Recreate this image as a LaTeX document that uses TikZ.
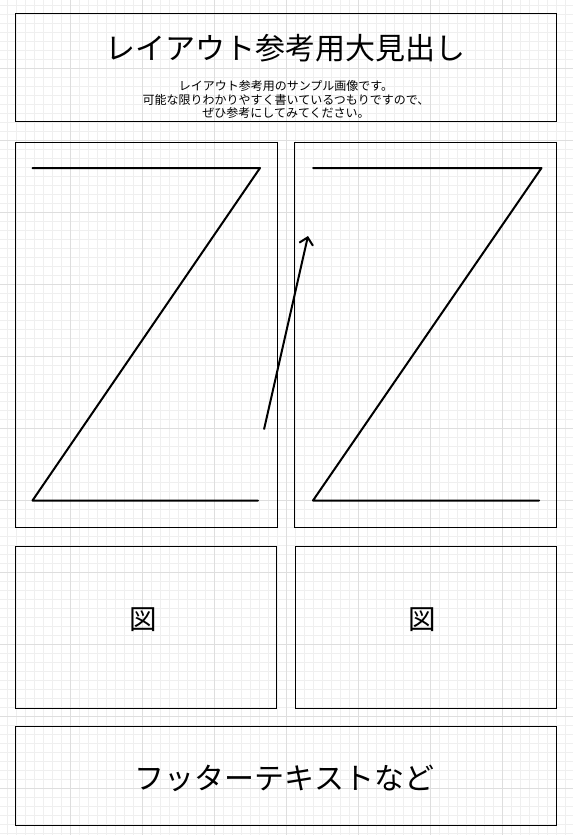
\documentclass[tikz,border=0pt]{standalone}
\usepackage{fontspec}
\setmainfont{Noto Sans CJK JP}
\usetikzlibrary{arrows.meta}
\definecolor{gridminor}{HTML}{EFEFEF}
\definecolor{gridmajor}{HTML}{DEDEDE}
\tikzset{
  minorline/.style={draw=gridminor, line width=0.75pt},
  majorline/.style={draw=gridmajor, line width=0.9pt},
  panel/.style={draw=black, line width=1pt, fill=none, anchor=north west, inner sep=0pt, outer sep=0pt},
  zline/.style={draw=black, line width=2pt, line cap=round, line join=round},
  arrowline/.style={draw=black, line width=2pt, -{Straight Barb[length=7pt,width=14pt]}},
  bigtext/.style={inner sep=0pt, font=\fontsize{30}{36}\selectfont},
  smalltext/.style={inner sep=0pt, align=center, font=\fontsize{12}{13.2}\selectfont},
  figtext/.style={inner sep=0pt, font=\fontsize{27.5}{32}\selectfont}
}
\begin{document}
\begin{tikzpicture}[x=1pt,y=-1pt]
\useasboundingbox (0,0) rectangle (573,835);
\fill[white] (0,0) rectangle (573,835);
% grid
\foreach \i in {0,...,63} { \draw[minorline] ({7+9*\i},0) -- ({7+9*\i},835); }
\foreach \i in {0,...,92} { \draw[minorline] (0,{5+9*\i}) -- (573,{5+9*\i}); }
\foreach \i in {1,...,8} { \draw[majorline] ({-2+72*\i},0) -- ({-2+72*\i},835); }
\foreach \i in {1,...,11} { \draw[majorline] (0,{-4+72*\i}) -- (573,{-4+72*\i}); }
% boxes
\node[panel, minimum width=541pt, minimum height=108pt] (header) at (15,13) {};
\node[panel, minimum width=262pt, minimum height=385pt] (leftpanel) at (15,142) {};
\node[panel, minimum width=262pt, minimum height=385pt] (rightpanel) at (294.5,142) {};
\node[panel, minimum width=261pt, minimum height=162pt] (figleft) at (15,546) {};
\node[panel, minimum width=261pt, minimum height=162pt] (figright) at (295.5,546) {};
\node[panel, minimum width=541pt, minimum height=99pt] (footer) at (15,726.5) {};
% texts
\node[bigtext] (title) at (285,48.5) {レイアウト参考用大見出し};
\node[smalltext] (subtitle) at (286,99.5) {レイアウト参考用のサンプル画像です。\\可能な限りわかりやすく書いているつもりですので、\\ぜひ参考にしてみてください。};
\node[figtext] (figlabelL) at (143.5,620) {図};
\node[figtext] (figlabelR) at (422.5,620) {図};
\node[bigtext] (footertext) at (284.5,778) {フッターテキストなど};
% Z shapes
\coordinate (lz1) at (32.5,168);
\coordinate (lz2) at (260,168);
\coordinate (lz3) at (32.5,500.5);
\coordinate (lz4) at (258,500.5);
\draw[zline] (lz1) -- (lz2) -- (lz3) -- (lz4);
\coordinate (rz1) at (313,168);
\coordinate (rz2) at (541.5,168);
\coordinate (rz3) at (313,500.5);
\coordinate (rz4) at (539,500.5);
\draw[zline] (rz1) -- (rz2) -- (rz3) -- (rz4);
% arrow
\coordinate (astart) at (264,429.5);
\coordinate (aend) at (308,236);
\draw[arrowline] (astart) -- (aend);
\end{tikzpicture}
\end{document}
